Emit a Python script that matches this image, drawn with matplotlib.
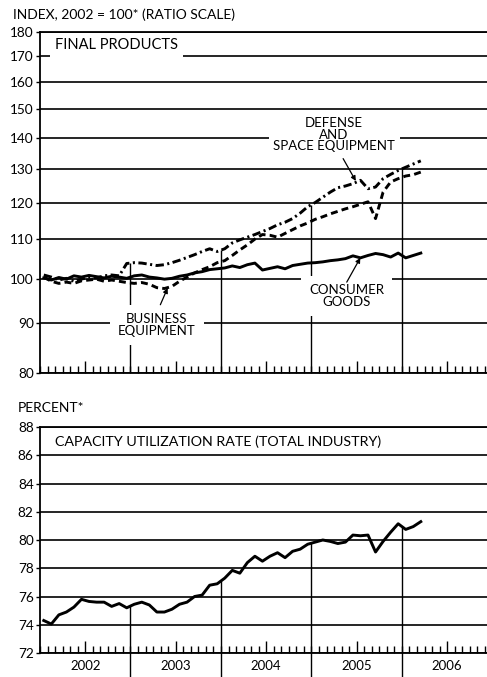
import numpy as np
import matplotlib.pyplot as plt
from matplotlib.ticker import NullLocator

plt.rcParams['font.family'] = ['Lato', 'DejaVu Sans']
plt.rcParams['lines.scale_dashes'] = False

# monthly data, Jan 2002 .. Mar 2006
months = np.arange(51)
t = 2002 + (months + 0.5) / 12

consumer = [100.3, 99.8, 100.4, 100.0, 100.8, 100.5, 100.9, 100.6, 100.3, 100.7, 100.5, 100.2,
            100.8, 101.0, 100.5, 100.3, 100.0, 100.2, 100.7, 101.0, 101.5, 101.8, 102.3, 102.5,
            102.7, 103.2, 102.8, 103.5, 103.9, 102.2, 102.6, 103.0, 102.5, 103.3, 103.6, 103.9,
            104.0, 104.2, 104.5, 104.7, 105.0, 105.7, 105.2, 105.8, 106.3, 106.0, 105.4, 106.4,
            105.2, 105.8, 106.4]
business = [100.5, 99.5, 99.0, 99.3, 99.0, 99.6, 99.8, 100.0, 99.5, 99.8, 99.5, 99.2,
            99.0, 99.2, 98.8, 98.0, 97.8, 98.3, 99.5, 100.5, 101.5, 102.3, 103.0, 104.0,
            104.5, 105.8, 107.2, 108.5, 110.0, 111.2, 111.0, 110.5, 111.5, 112.5, 113.5, 114.3,
            115.3, 116.0, 116.8, 117.5, 118.2, 118.8, 119.5, 120.2, 115.5, 123.0, 126.0, 127.0,
            127.8, 128.2, 129.0]
defense = [101.0, 100.5, 99.8, 100.2, 99.5, 100.0, 100.5, 100.3, 100.8, 101.0, 100.8, 103.8,
           104.0, 103.9, 103.6, 103.3, 103.5, 104.0, 104.6, 105.3, 106.0, 106.8, 107.5, 106.8,
           107.5, 109.0, 109.8, 110.5, 111.2, 112.0, 112.8, 113.8, 114.5, 115.5, 117.0, 118.8,
           120.0, 121.5, 123.0, 124.3, 124.8, 125.5, 126.5, 124.0, 124.5, 127.0, 128.3, 129.5,
           130.5, 131.5, 132.5]
capacity = [74.3, 74.05, 74.7, 74.9, 75.25, 75.8, 75.65, 75.6, 75.6, 75.3, 75.5, 75.2,
            75.45, 75.6, 75.4, 74.9, 74.9, 75.1, 75.45, 75.6, 76.0, 76.1, 76.8, 76.9,
            77.3, 77.85, 77.65, 78.4, 78.85, 78.5, 78.85, 79.1, 78.75, 79.2, 79.35, 79.7,
            79.85, 80.0, 79.9, 79.75, 79.85, 80.35, 80.3, 80.35, 79.15, 79.9, 80.55, 81.15,
            80.75, 80.95, 81.3]

years = [2002, 2003, 2004, 2005, 2006]
index_ticks = [80, 90, 100, 110, 120, 130, 140, 150, 160, 170, 180]
cap_ticks = [72, 74, 76, 78, 80, 82, 84, 86, 88]

fig = plt.figure(figsize=(4.87, 6.77), dpi=100)
ax1 = fig.add_axes([40/487, 1-373/677, 447/487, 341/677])
ax2 = fig.add_axes([40/487, 1-653/677, 447/487, 226/677])

xmin, xmax = 2002, 2006.94
month_edges = 2002 + np.arange(0, 60) / 12
mid_years = [y + 0.5 for y in years]

for ax in (ax1, ax2):
    ax.set_xlim(xmin, xmax)
    ax.spines['right'].set_visible(False)
    for s in ('top', 'left', 'bottom'):
        ax.spines[s].set_linewidth(1.3)
    ax.grid(axis='y', color='black', lw=1.2)
    ax.set_axisbelow(True)
    ax.set_xticks(mid_years)
    ax.set_xticks(month_edges, minor=True)
    ax.tick_params(axis='x', which='major', direction='in', length=9, width=1)
    ax.tick_params(axis='x', which='minor', direction='in', length=5, width=1)
    ax.tick_params(axis='y', direction='out', length=3, width=1, pad=1.5, labelsize=9.8)
    ax.yaxis.set_minor_locator(NullLocator())

# ---- top panel ----
ax1.set_yscale('log')
ax1.set_ylim(80, 180)
ax1.set_yticks(index_ticks, [str(v) for v in index_ticks])
ax1.yaxis.set_minor_locator(NullLocator())
ax1.tick_params(axis='x', labelbottom=False)

ax1.plot(t, consumer, color='black', lw=2.1, zorder=4)
ax1.plot(t, business, color='black', lw=2.1, dashes=(5, 3), zorder=4)
ax1.plot(t, defense, color='black', lw=2.1, dashes=(6, 2.5, 1.5, 2.5), zorder=4)

top_series = np.maximum.reduce([np.array(consumer), np.array(business), np.array(defense)])
for k, y in enumerate(years[1:], start=1):
    v = (top_series[12*k - 1] + top_series[12*k]) / 2
    ax1.vlines(y, 80, v, color='black', lw=1, zorder=1)

box = dict(facecolor='white', edgecolor='none', boxstyle='square,pad=0.35')
ax1.text(2002.17, 174.5, 'FINAL PRODUCTS', fontsize=10.5, ha='left', va='center',
         bbox=box, zorder=2)
ax1.text(2005.25, 140.9, 'DEFENSE\nAND\nSPACE EQUIPMENT', fontsize=9.5, ha='center',
         va='center', linespacing=0.95, bbox=box, zorder=2)
ax1.text(2003.29, 89.7, 'BUSINESS\nEQUIPMENT', fontsize=9.5, ha='center', va='center',
         linespacing=0.95, bbox=dict(facecolor='white', edgecolor='none',
                                     boxstyle='square,pad=0.6'), zorder=2)
ax1.text(2005.39, 96.1, 'CONSUMER\nGOODS', fontsize=9.5, ha='center', va='center',
         linespacing=0.95, bbox=dict(facecolor='white', edgecolor='none',
                                     boxstyle='square,pad=0.6'), zorder=2)

arrow = dict(arrowstyle='-|>', color='black', lw=0.9, mutation_scale=7,
             shrinkA=0, shrinkB=0)
ax1.annotate('', xy=(2005.49, 126.3), xytext=(2005.35, 133.2), arrowprops=arrow, zorder=5)
ax1.annotate('', xy=(2003.41, 97.9), xytext=(2003.33, 94.1), arrowprops=arrow, zorder=5)
ax1.annotate('', xy=(2005.54, 105.2), xytext=(2005.39, 99.3), arrowprops=arrow, zorder=5)

# ---- bottom panel ----
ax2.set_ylim(72, 88)
ax2.set_yticks(cap_ticks, [str(v) for v in cap_ticks])
ax2.set_xticklabels([str(y) for y in years])
ax2.tick_params(axis='x', which='major', labelsize=9.5, pad=5)

ax2.plot(t, capacity, color='black', lw=2.1, zorder=4)
for k, y in enumerate(years[1:], start=1):
    v = (capacity[12*k - 1] + capacity[12*k]) / 2
    ax2.vlines(y, 70.3, v, color='black', lw=1, zorder=1, clip_on=False)

ax2.text(2002.17, 86.94, 'CAPACITY UTILIZATION RATE (TOTAL INDUSTRY)', fontsize=10.3,
         ha='left', va='center')

fig.text(13/487, 1-15/677, 'INDEX, 2002 = 100* (RATIO SCALE)', fontsize=10,
         ha='left', va='center')
fig.text(18/487, 1-408/677, 'PERCENT*', fontsize=10, ha='left', va='center')

fig.savefig('out.png', dpi=100)
